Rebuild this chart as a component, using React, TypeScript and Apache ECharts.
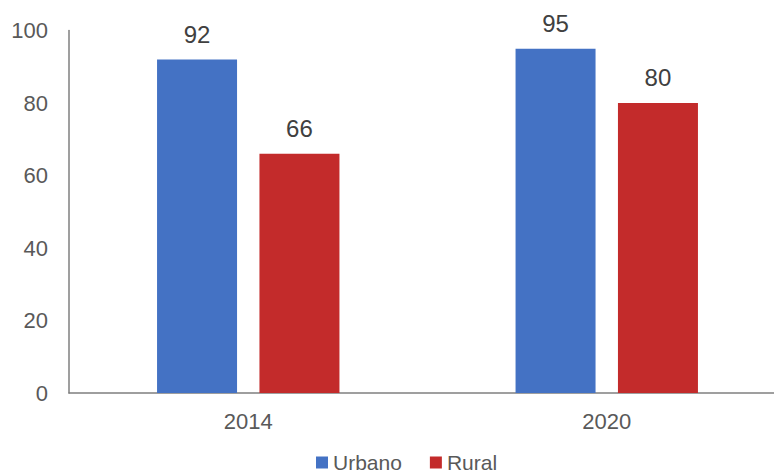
import React, { useEffect, useRef } from "react";
import * as echarts from "echarts";

const categories = ["2014", "2020"];
const urbano = [92, 95];
const rural = [66, 80];
const seriesNames = ["Urbano", "Rural"];

export default function App() {
  const ref = useRef<HTMLDivElement>(null);
  useEffect(() => {
    if (!ref.current) return;
    const chart = echarts.init(ref.current, null, { renderer: "svg" });
    const font = "'Liberation Sans', Arial, sans-serif";
    chart.setOption({
      animation: false,
      textStyle: { fontFamily: font },
      grid: { left: 69, top: 30.5, height: 362.5, width: 717, containLabel: false },
      legend: {
        data: seriesNames,
        left: 316,
        top: 452,
        padding: 0,
        icon: "rect",
        itemWidth: 12,
        itemHeight: 12,
        itemGap: 28,
        textStyle: { fontSize: 21, lineHeight: 20, color: "#595959", fontFamily: font },
      },
      xAxis: {
        type: "category",
        data: categories,
        axisTick: { show: false },
        axisLine: { lineStyle: { color: "#7f7f7f", width: 1.5 } },
        axisLabel: { fontSize: 22, color: "#595959", margin: 17, fontFamily: font },
      },
      yAxis: {
        type: "value",
        min: 0,
        max: 100,
        interval: 20,
        splitLine: { show: false },
        axisLine: { show: true, lineStyle: { color: "#7f7f7f", width: 1.5 } },
        axisTick: { show: false },
        axisLabel: { fontSize: 22, color: "#595959", margin: 21, fontFamily: font },
      },
      series: [
        {
          name: seriesNames[0],
          type: "bar",
          data: urbano,
          barWidth: 80,
          barGap: "28%",
          itemStyle: { color: "#4472C4" },
          label: { show: true, position: "top", distance: 13.5, fontSize: 24, color: "#404040", fontFamily: font },
        },
        {
          name: seriesNames[1],
          type: "bar",
          data: rural,
          barWidth: 80,
          itemStyle: { color: "#C32B2B" },
          label: { show: true, position: "top", distance: 13.5, fontSize: 24, color: "#404040", fontFamily: font },
        },
      ],
    });
    return () => chart.dispose();
  }, []);
  return (
    <div style={{ position: "absolute", left: 0, top: 0, width: 774, height: 473, overflow: "hidden" }}>
      <div ref={ref} style={{ width: 800, height: 473 }} />
    </div>
  );
}
